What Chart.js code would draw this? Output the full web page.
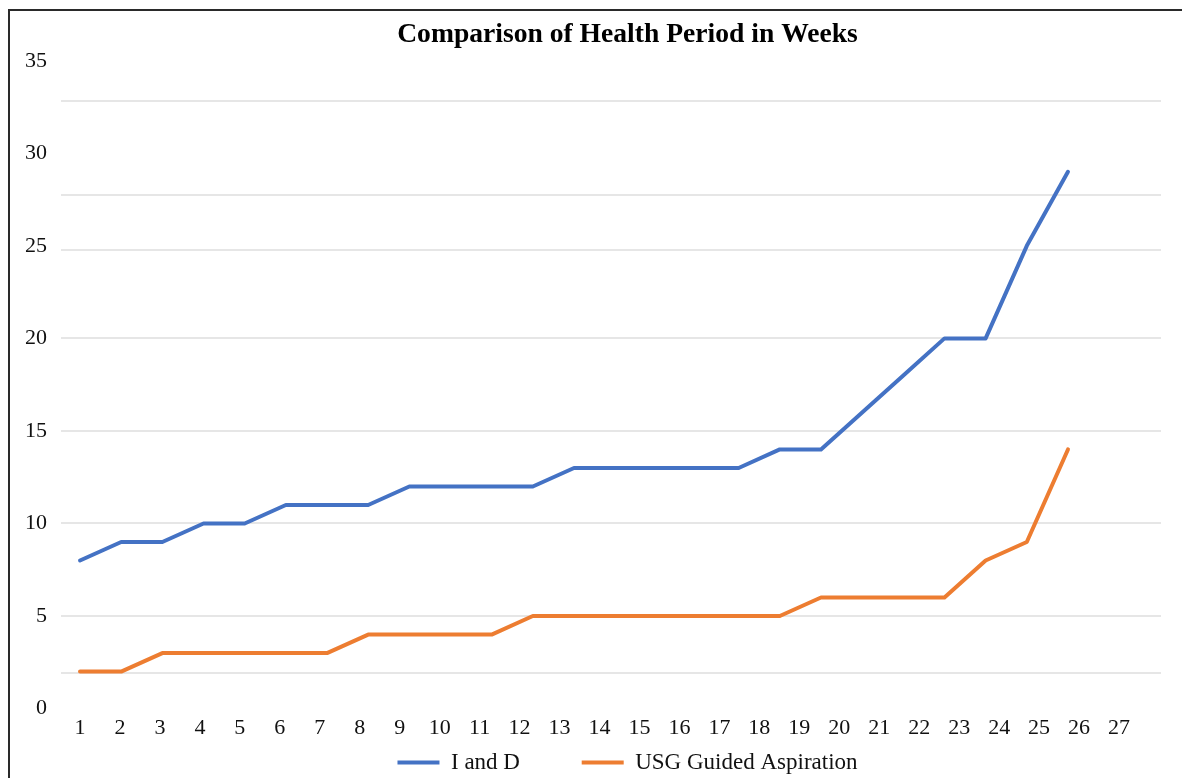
<!DOCTYPE html>
<html><head><meta charset="utf-8">
<script src="https://cdn.jsdelivr.net/npm/chart.js@4.4.1/dist/chart.umd.min.js"></script>
<style>
html,body{margin:0;padding:0;background:#fff;overflow:hidden;width:1182px;height:778px;}
#wrap{position:relative;width:1182px;height:778px;overflow:hidden;background:#fff;}
#c{position:absolute;left:0;top:0;}
#frame{position:absolute;left:8px;top:9px;width:1300px;height:900px;border-left:2px solid #2a2a2a;border-top:2px solid #2a2a2a;pointer-events:none;}
</style></head><body>
<div id="wrap"><canvas id="c" width="1182" height="784"></canvas><div id="frame"></div></div>
<script>
// ---- data ----
const weeks = [1,2,3,4,5,6,7,8,9,10,11,12,13,14,15,16,17,18,19,20,21,22,23,24,25];
const iAndD = [8,9,9,10,10,11,11,11,12,12,12,12,13,13,13,13,13,14,14,16,18,20,20,25,29];
const usgAspiration = [2,2,3,3,3,3,3,4,4,4,4,5,5,5,5,5,5,5,6,6,6,6,8,9,14];
const seriesNames = ['I and D', 'USG Guided Aspiration'];
const xTickLabels = ['1','2','3','4','5','6','7','8','9','10','11','12','13','14','15','16','17','18','19','20','21','22','23','24','25','26','27'];
const yTickLabels = [0,5,10,15,20,25,30,35];
const gridValues = [1.9,5,10,15,20,24.75,27.75,32.8];

const SERIF = "'Liberation Serif','Times New Roman',serif";
const shiftPlugin = {
  id: 'shiftBoxes',
  afterLayout(chart) {
    const dx = 47;
    [chart.titleBlock, chart.legend].forEach(b => { if (b) { b.left += dx; b.right += dx; } });
  }
};

new Chart(document.getElementById('c'), {
  type: 'line',
  data: {
    datasets: [
      { label: seriesNames[0], data: weeks.map((w,i)=>({x:w, y:iAndD[i]})), borderColor: '#4472C4', backgroundColor: '#4472C4' },
      { label: seriesNames[1], data: weeks.map((w,i)=>({x:w, y:usgAspiration[i]})), borderColor: '#ED7D31', backgroundColor: '#ED7D31' }
    ].map(d => Object.assign(d, { borderWidth: 4, pointRadius: 0, pointHoverRadius: 0, tension: 0, borderJoinStyle: 'round', borderCapStyle: 'round', xAxisID: 'x', yAxisID: 'y' }))
  },
  options: {
    responsive: false,
    animation: false,
    devicePixelRatio: 1,
    layout: { padding: { left: 0, right: 21, top: 0, bottom: 0 } },
    scales: {
      x: { type: 'linear', display: false, min: 0.538, max: 27.26 },
      x2: {
        type: 'linear', position: 'bottom', min: 0.5245, max: 28.05,
        afterBuildTicks: axis => { axis.ticks = xTickLabels.map((t,i)=>({ value: i + 1 })); },
        afterFit: s => { s.height = 32.4; },
        ticks: { callback: (v, i) => xTickLabels[i], autoSkip: false, maxRotation: 0, padding: 6, color: '#111', font: { family: SERIF, size: 22 } },
        grid: { display: false, drawTicks: false }, border: { display: false }
      },
      y: {
        type: 'linear', min: 0, max: 35,
        afterBuildTicks: axis => {
          const vals = Array.from(new Set(yTickLabels.concat(gridValues))).sort((a,b)=>a-b);
          axis.ticks = vals.map(v => ({ value: v }));
        },
        afterFit: s => { s.width = 61; },
        ticks: { callback: v => yTickLabels.includes(v) ? String(v) : '', autoSkip: false, padding: 14, color: '#111', font: { family: SERIF, size: 22 } },
        grid: { drawTicks: false, lineWidth: 2, color: ctx => (ctx.tick && gridValues.includes(ctx.tick.value)) ? '#e6e6e6' : 'rgba(0,0,0,0)' },
        border: { display: false }
      }
    },
    plugins: {
      title: { display: true, text: 'Comparison of Health Period in Weeks', color: '#000', font: { family: SERIF, size: 27.6, weight: 'bold' }, padding: { top: 18, bottom: 9.6 } },
      legend: {
        position: 'bottom',
        labels: {
          usePointStyle: true, pointStyle: 'line', pointStyleWidth: 42, padding: 10, color: '#111',
          font: { family: SERIF, size: 23 },
          generateLabels: chart => {
            const items = Chart.defaults.plugins.legend.labels.generateLabels(chart);
            items[0].text = items[0].text + '\u00A0'.repeat(9);
            return items;
          }
        }
      },
      tooltip: { enabled: false }
    }
  },
  plugins: [shiftPlugin]
});
</script>
</body></html>
